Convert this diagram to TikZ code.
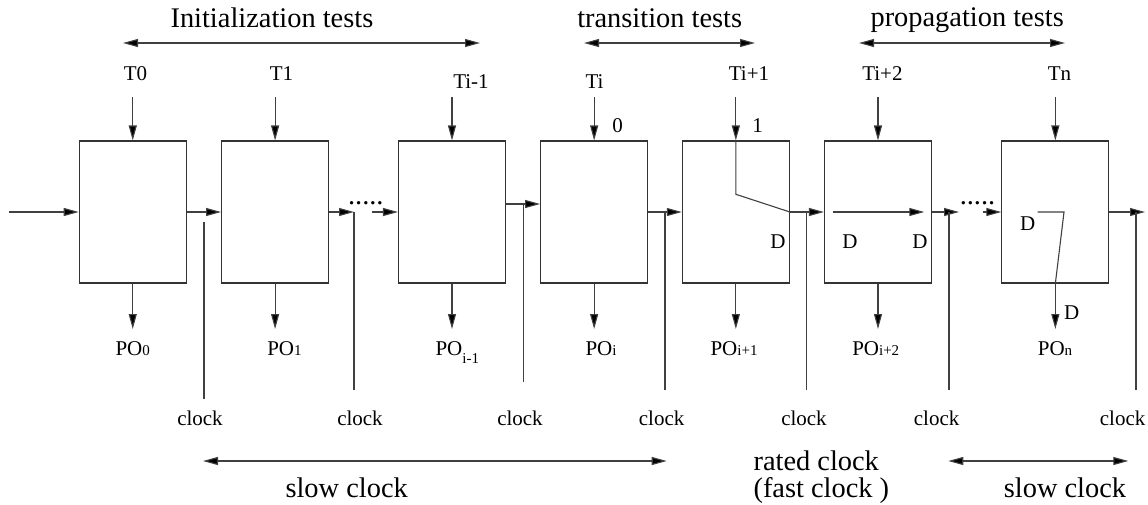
\documentclass[tikz,border=0pt]{standalone}
\usepackage{fontspec}
\setmainfont{Liberation Serif}
\usetikzlibrary{arrows.meta}
\newcommand\smallsub[1]{{\fontsize{15}{15}\selectfont #1}}
\begin{document}
\begin{tikzpicture}[x=1pt,y=-1pt,
  line width=1.1pt, color=black!75, every node/.style={text=black},
  box/.style={draw=black!80, line width=1.1pt, minimum width=107pt, minimum height=142pt, inner sep=0pt},
  arr/.style={-{Triangle[length=15pt,width=8pt,fill=black]}},
  darr/.style={{Triangle[length=15pt,width=8pt,fill=black]}-{Triangle[length=15pt,width=8pt,fill=black]}},
  big/.style={font=\fontsize{28.4}{27}\selectfont, inner sep=0pt},
  med/.style={font=\fontsize{21}{21}\selectfont, inner sep=0pt},
]
\useasboundingbox (0,0) rectangle (1148,504);

% boxes
\node[box] (b1) at (132.75,212) {};
\node[box] (b2) at (275.1,212) {};
\node[box] (b3) at (452,212) {};
\node[box] (b4) at (594.15,212) {};
\node[box] (b5) at (735.85,212) {};
\node[box] (b6) at (878,212) {};
\node[box] (b7) at (1055.35,212) {};

% group labels and range arrows
\node[big, anchor=base west] (lInit) at (170,27) {Initialization tests};
\node[big, anchor=base west] (lTran) at (576.7,27) {transition tests};
\node[big, anchor=base west] (lProp) at (870,26.5) {propagation tests};
\coordinate (ra1) at (123,43); \coordinate (rb1) at (480,43);
\coordinate (ra2) at (584,43); \coordinate (rb2) at (755,43);
\coordinate (ra3) at (859,43); \coordinate (rb3) at (1065,43);
\draw[darr] (ra1) -- (rb1);
\draw[darr] (ra2) -- (rb2);
\draw[darr] (ra3) -- (rb3);

% test inputs
\node[med, anchor=base west] (t1) at (123.3,80) {T0};
\node[med, anchor=base west] (t2) at (269.3,80) {T1};
\node[med, anchor=base west] (t3) at (452.7,88) {Ti-1};
\node[med, anchor=base west] (t4) at (585,88.5) {Ti};
\node[med, anchor=base west] (t5) at (728.3,80) {Ti+1};
\node[med, anchor=base west] (t6) at (861.7,80) {Ti+2};
\node[med, anchor=base west] (t7) at (1047.3,80) {Tn};
\foreach \i/\x in {1/132.75,2/275.1,3/452,4/594.15,5/735.85,6/878,7/1055.35}{
  \coordinate (in\i) at (\x,97);
  \draw[arr] (in\i) -- (b\i.north);
}
\node[med] (v0) at (617.5,126) {0};
\node[med] (v1) at (757.5,126) {1};

% primary outputs
\foreach \i/\x in {1/132.75,2/275.1,3/452,4/594.15,5/735.85,6/878,7/1055.35}{
  \coordinate (o\i) at (\x,329);
  \draw[arr] (b\i.south) -- (o\i);
}
\node[med, anchor=base west] (p1) at (115,355) {PO\smallsub{0}};
\node[med, anchor=base west] (p2) at (266.7,355) {PO\smallsub{1}};
\node[med, anchor=base west] (p3) at (435,355) {PO\raisebox{-8pt}{\smallsub{i-1}}};
\node[med, anchor=base west] (p4) at (585,355) {PO\smallsub{i}};
\node[med, anchor=base west] (p5) at (710,355) {PO\smallsub{i+1}};
\node[med, anchor=base west] (p6) at (851.7,355) {PO\smallsub{i+2}};
\node[med, anchor=base west] (p7) at (1037.3,355) {PO\smallsub{n}};

% scan chain
\coordinate (sin) at (9,212);
\draw[arr] (sin) -- (b1.west);
\draw[arr] (b1.east) -- (b2.west);
\coordinate (d2) at (354,212);
\coordinate (d3) at (372,212);
\draw[arr] (b2.east) -- (d2);
\node[big, anchor=base] (dots1) at (365.8,204) {.....};
\draw[arr] (d3) -- (b3.west);
\draw[arr] ([yshift=8pt]b3.east) -- ([yshift=8pt]b4.west);
\draw[arr] (b4.east) -- (b5.west);
\coordinate (k5) at (735.85,194.3);
\draw (b5.north) -- (k5) -- (b5.east);
\draw[arr] (b5.east) -- (b6.west);
\coordinate (m6a) at (832.7,212);
\coordinate (m6b) at (924.3,212);
\draw[arr] (m6a) -- (m6b);
\coordinate (d6) at (959,212);
\coordinate (d7) at (982.7,212);
\draw[arr] (b6.east) -- (d6);
\node[big, anchor=base] (dots2) at (977.5,204) {.....};
\draw[arr] (d7) -- (b7.west);
\coordinate (n7a) at (1037.7,212);
\coordinate (n7b) at (1064,212);
\draw (n7a) -- (n7b) -- (b7.south);
\coordinate (sout) at (1145,212);
\draw[arr] (b7.east) -- (sout);

% D labels
\node[med] (D1) at (778,242) {D};
\node[med] (D2) at (850,242) {D};
\node[med] (D3) at (920,242) {D};
\node[med] (D4) at (1027.7,223.3) {D};
\node[med] (D5) at (1071.7,312.7) {D};

% clock lines
\foreach \i/\x/\ya/\yb in {1/204/222/399, 2/354/212/390, 3/523.3/204/381.7, 4/665/212/390, 5/806.7/212/390, 6/949/212/390, 7/1136/212/390}{
  \coordinate (ca\i) at (\x,\ya);
  \coordinate (cb\i) at (\x,\yb);
  \draw (ca\i) -- (cb\i);
}
\foreach \i/\x in {1/176.7,2/336.7,3/496.7,4/638.3,5/780.7,6/913.3,7/1099.3}{
  \node[med, anchor=base west] (ck\i) at (\x,425) {clock};
}

% clock regimes
\coordinate (sa1) at (203,461); \coordinate (sb1) at (666.7,461);
\coordinate (sa2) at (948.3,461); \coordinate (sb2) at (1128.3,461);
\draw[darr] (sa1) -- (sb1);
\draw[darr] (sa2) -- (sb2);
\node[big, anchor=base west] (slow1) at (285,497.5) {slow clock};
\node[big, anchor=base west] (slow2) at (1003.3,497) {slow clock};
\node[big, anchor=north west, align=left] (rated) at (753,450.6) {rated clock\\(fast clock )};
\end{tikzpicture}
\end{document}
